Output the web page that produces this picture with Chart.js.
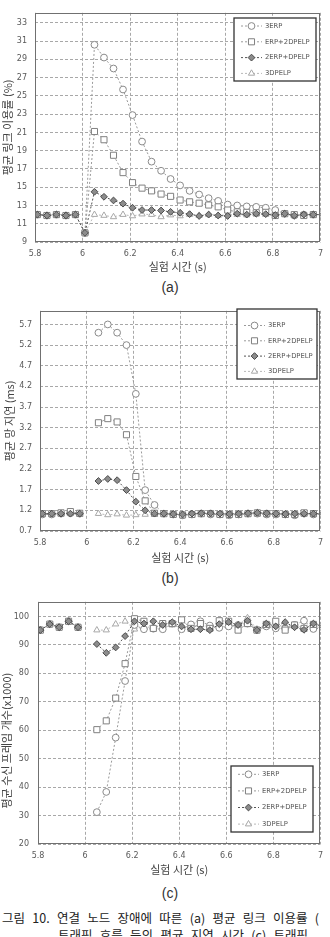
<!DOCTYPE html>
<html>
<head>
<meta charset="utf-8">
<script src="https://cdn.jsdelivr.net/npm/chart.js@4.4.1/dist/chart.umd.min.js"></script>
<style>
  body { margin: 0; background: #fff; width: 330px; height: 937px; overflow: hidden; position: relative; }
  .plot { position: absolute; left: 0; width: 330px; }
  .sub { position: absolute; left: 0; width: 340px; text-align: center; font: 14px "Liberation Sans", sans-serif; color: #333; line-height: 16px; }
  .cap { position: absolute; white-space: nowrap; font: 12.5px "Noto Sans CJK KR", sans-serif; color: #222; word-spacing: 4.5px; line-height: 16px; }
</style>
</head>
<body>
<div class="plot" style="top:0;height:276px"><canvas id="chartA"></canvas></div>
<div class="sub" style="top:279px">(a)</div>
<div class="plot" style="top:298px;height:270px"><canvas id="chartB"></canvas></div>
<div class="sub" style="top:570px">(b)</div>
<div class="plot" style="top:588px;height:292px"><canvas id="chartC"></canvas></div>
<div class="sub" style="top:885px">(c)</div>
<div class="cap" style="top:910px;left:2px">그림 10. 연결 노드 장애에 따른 (a) 평균 링크 이용률 (</div>
<div class="cap" style="top:927px;left:58px">트래픽 흐름 등의 평균 지연 시간 (c) 트래픽</div>

<script>
// 실험 시간 (s)
const times = [5.81, 5.85, 5.89, 5.93, 5.97, 6.01, 6.05, 6.09, 6.13, 6.17, 6.21, 6.25, 6.29, 6.33, 6.37, 6.41,
  6.45, 6.49, 6.53, 6.57, 6.61, 6.65, 6.69, 6.73, 6.77, 6.81, 6.85, 6.89, 6.93, 6.97, 7.01];
const seriesNames = ['3ERP', 'ERP+2DPELP', '2ERP+DPELP', '3DPELP'];

// (a) 평균 링크 이용률 (%)
const linkERP3 = [12.0, 11.9, 12.0, 11.9, 12.0, 10.0, 30.6, 29.2, 28.0, 25.7, 22.9, 20.0, 17.8, 16.8, 15.9, 15.2,
  14.6, 14.2, 13.8, 13.5, 13.1, 13.0, 12.9, 12.85, 12.75, 12.5, 12.1, 11.9, 12.0, 12.0, 12.0];
const linkERP2DP = [12.0, 11.9, 12.0, 11.9, 12.0, 10.0, 21.1, 20.2, 18.5, 16.6, 15.5, 14.9, 14.6, 14.25, 14.0, 13.6,
  13.4, 13.25, 13.05, 12.85, 12.5, 12.3, 12.25, 12.2, 12.25, 11.9, 12.1, 12.0, 11.9, 12.0, 12.0];
const link2ERPDP = [12.0, 11.9, 12.0, 11.9, 12.0, 10.0, 14.5, 13.95, 13.55, 13.2, 12.75, 12.5, 12.5, 12.45, 12.3, 12.2,
  12.05, 11.85, 12.0, 11.9, 11.85, 12.1, 12.0, 12.1, 12.05, 11.95, 12.1, 11.9, 12.0, 12.0, 12.0];
const link3DP = [12.0, 11.9, 12.0, 11.9, 12.0, 10.0, 12.0, 11.9, 11.75, 12.0, 11.85, 12.05, 12.0, 11.75, 11.95, 11.85,
  12.0, 11.9, 12.0, 11.9, 12.0, 12.0, 11.95, 12.05, 12.0, 11.9, 12.05, 11.9, 11.85, 12.0, 12.0];

// (b) 평균 망 지연 (ms)
const delayERP3 = [1.1, 1.1, 1.12, 1.13, 1.12, null, 5.5, 5.7, 5.5, 5.2, 4.02, 1.69, 1.33, 1.12, 1.1, 1.08,
  1.1, 1.12, 1.1, 1.1, 1.08, 1.1, 1.12, 1.12, 1.1, 1.1, 1.1, 1.08, 1.12, 1.1, 1.1];
const delayERP2DP = [1.12, 1.12, 1.14, 1.17, 1.13, null, 3.32, 3.42, 3.34, 3.03, 2.02, 1.43, 1.13, 1.12, 1.1, 1.09,
  1.1, 1.12, 1.12, 1.1, 1.1, 1.1, 1.12, 1.14, 1.12, 1.12, 1.1, 1.1, 1.14, 1.12, 1.12];
const delay2ERPDP = [1.12, 1.12, 1.12, 1.12, 1.12, null, 1.91, 1.96, 1.93, 1.69, 1.41, 1.2, 1.12, 1.12, 1.11, 1.1,
  1.12, 1.13, 1.13, 1.12, 1.11, 1.12, 1.13, 1.14, 1.13, 1.12, 1.11, 1.12, 1.12, 1.12, 1.12];
const delay3DP = [1.1, 1.1, 1.1, 1.12, 1.1, null, 1.12, 1.09, 1.11, 1.08, 1.09, 1.1, 1.1, 1.1, 1.1, 1.1,
  1.1, 1.1, 1.1, 1.1, 1.1, 1.1, 1.1, 1.1, 1.1, 1.1, 1.1, 1.1, 1.1, 1.1, 1.1];

// (c) 평균 수신 프레임 개수 (x1000)
const frameERP3 = [95.2, 97.3, 96.2, 98.3, 96.2, null, 31.2, 38.3, 57.4, 77.3, 97.0, 95.5, 95.7, 95.5, 97.5, 95.5,
  97.2, 98.3, 96.8, 96.0, 96.5, 97.0, 97.5, 95.2, 96.5, 95.8, 95.8, 97.0, 98.5, 95.6, 96.0];
const frameERP2DP = [95.2, 97.3, 96.2, 98.3, 96.2, null, 60.2, 63.3, 71.3, 83.4, 99.2, 98.3, 95.8, 97.5, 97.5, 98.8,
  95.8, 97.5, 95.8, 98.5, 98.3, 95.2, 97.5, 95.2, 97.2, 98.3, 95.2, 97.0, 95.8, 97.2, 96.5];
const frame2ERPDP = [95.2, 97.3, 96.2, 98.3, 96.2, null, 90.3, 87.2, 89.1, 93.1, 98.3, 97.5, 98.3, 97.0, 98.0, 96.5,
  95.5, 95.5, 95.2, 97.3, 98.0, 97.0, 98.5, 95.2, 97.5, 96.5, 98.0, 96.2, 95.3, 97.5, 96.5];
const frame3DP = [95.2, 97.3, 96.2, 98.3, 96.2, null, 95.2, 95.2, 97.3, 98.3, 95.5, 96.0, 96.5, 96.0, 97.0, 96.5,
  96.0, 97.0, 96.0, 96.5, 96.5, 97.0, 99.5, 95.5, 96.5, 96.0, 97.0, 96.5, 96.0, 96.5, 96.0];

// tick labels
const xTicks = [5.8, 6, 6.2, 6.4, 6.6, 6.8, 7];
const yTicksA = [9, 11, 13, 15, 17, 19, 21, 23, 25, 27, 29, 31, 33];
const yTicksB = [0.7, 1.2, 1.7, 2.2, 2.7, 3.2, 3.7, 4.2, 4.7, 5.2, 5.7];
const yTicksC = [20, 30, 40, 50, 60, 70, 80, 90, 100];

const styles = [
  { pointStyle: 'circle', radius: 3.4, border: '#8a8a8a', fill: '#fff', line: '#9a9a9a', order: 2 },
  { pointStyle: 'rect', radius: 4.3, border: '#808080', fill: '#fff', line: '#9a9a9a', order: 1 },
  { pointStyle: 'rectRot', radius: 3.4, border: '#4a4a4a', fill: '#8c8c8c', line: '#555', order: 0 },
  { pointStyle: 'triangle', radius: 3.6, border: '#a8a8a8', fill: '#fff', line: '#b8b8b8', order: 3 },
];

// plot frame + legend box drawn inside the plot
const frameLegend = {
  id: 'frameLegend',
  afterDraw(chart, args, opts) {
    const { ctx, chartArea: a } = chart;
    ctx.save();
    ctx.strokeStyle = '#707070';
    ctx.lineWidth = 1;
    ctx.strokeRect(Math.round(a.left) + 0.5, Math.round(a.top) + 0.5,
      Math.round(a.right - a.left) - 1, Math.round(a.bottom - a.top) - 1);

    const L = opts.box;
    ctx.fillStyle = '#fff';
    ctx.fillRect(L.x, L.y, L.w, L.h);
    ctx.strokeStyle = '#333';
    ctx.lineWidth = 1.3;
    ctx.strokeRect(L.x, L.y, L.w, L.h);
    ctx.font = '6.8px "DejaVu Sans"';
    ctx.textBaseline = 'middle';
    chart.data.datasets.forEach((ds, i) => {
      const y = L.y + L.first + i * L.gap;
      ctx.strokeStyle = ds.borderColor;
      ctx.lineWidth = 1;
      ctx.setLineDash(ds.borderDash);
      ctx.beginPath();
      ctx.moveTo(L.x + 7, y);
      ctx.lineTo(L.x + 28, y);
      ctx.stroke();
      ctx.setLineDash([]);
      ctx.fillStyle = ds.pointBackgroundColor;
      ctx.strokeStyle = ds.pointBorderColor;
      Chart.helpers.drawPoint(ctx, { pointStyle: ds.pointStyle, radius: ds.pointRadius, borderWidth: 1, rotation: 0 }, L.x + 17.5, y);
      ctx.fillStyle = '#555';
      ctx.fillText(ds.label, L.x + 31, y);
    });
    ctx.restore();
  }
};

function makeChart(id, series, yTicks, yMin, yMax, yDigits, yTitle, g) {
  return new Chart(document.getElementById(id), {
    type: 'line',
    data: {
      datasets: series.map((vals, i) => ({
        label: seriesNames[i],
        data: times.map((t, k) => ({ x: t, y: vals[k] })),
        borderColor: styles[i].line,
        borderWidth: 1,
        borderDash: [2, 2],
        pointStyle: styles[i].pointStyle,
        pointRadius: styles[i].radius,
        pointBorderColor: styles[i].border,
        pointBackgroundColor: styles[i].fill,
        pointBorderWidth: 1,
        order: styles[i].order,
        tension: 0,
        spanGaps: false,
      })),
    },
    options: {
      responsive: true,
      maintainAspectRatio: false,
      animation: false,
      layout: { padding: { top: g.padTop, right: g.padRight, left: 0, bottom: 0 } },
      scales: {
        x: {
          type: 'linear',
          min: 5.8,
          max: 7,
          afterBuildTicks: (axis) => { axis.ticks = xTicks.map(v => ({ value: v })); },
          afterFit: (axis) => { axis.height = g.xh; },
          ticks: { color: '#595959', font: { family: 'DejaVu Sans', size: 8 }, padding: 7, maxRotation: 0, autoSkip: false,
            callback: (v) => String(v) },
          grid: { color: '#a8a8a8', drawTicks: false },
          border: { display: false, dash: [3, 2] },
          title: { display: true, text: '실험 시간 (s)', color: '#444',
            font: { family: 'Noto Sans CJK KR', size: 11 }, padding: { top: 0, bottom: g.xTitlePad } },
        },
        y: {
          min: yMin,
          max: yMax,
          afterBuildTicks: (axis) => { axis.ticks = yTicks.map(v => ({ value: v })); },
          afterFit: (axis) => { axis.width = g.yw; },
          ticks: { color: '#595959', font: { family: 'DejaVu Sans', size: 8 }, padding: g.yTickPad,
            callback: (v) => v.toFixed(yDigits) },
          grid: { color: '#a8a8a8', drawTicks: false },
          border: { display: false, dash: [3, 2] },
          title: { display: true, text: yTitle, color: '#444',
            font: { family: 'Noto Sans CJK KR', size: 11 }, padding: { top: g.yTitlePad, bottom: 0 } },
        },
      },
      plugins: {
        legend: { display: false },
        tooltip: { enabled: false },
        frameLegend: { box: g.legend },
      },
    },
    plugins: [frameLegend],
  });
}

makeChart('chartA', [linkERP3, linkERP2DP, link2ERPDP, link3DP], yTicksA, 9, 34.1, 0, '평균 링크 이용률 (%)',
  { padTop: 8, padRight: 8, yw: 35, xh: 34, xTitlePad: 2.5, yTickPad: 8, yTitlePad: 1.5,
    legend: { x: 234, y: 18, w: 82, h: 63, first: 8, gap: 15.8 } });

makeChart('chartB', [delayERP3, delayERP2DP, delay2ERPDP, delay3DP], yTicksB, 0.7, 6.03, 1, '평균 망 지연 (ms)',
  { padTop: 8, padRight: 5, yw: 40, xh: 37, xTitlePad: 3.5, yTickPad: 8, yTitlePad: 3,
    legend: { x: 237, y: 11, w: 80, h: 70, first: 16.5, gap: 15.3 } });

makeChart('chartC', [frameERP3, frameERP2DP, frame2ERPDP, frame3DP], yTicksC, 20, 105.15, 0, '평균 수신 프레임 개수(x1000)\u3000\u3000\u3000 ',
  { padTop: 8, padRight: 8, yw: 38, xh: 36, xTitlePad: 3.5, yTickPad: 9, yTitlePad: 0,
    legend: { x: 231, y: 178, w: 82, h: 66, first: 8.3, gap: 16.6 } });
</script>
</body>
</html>
